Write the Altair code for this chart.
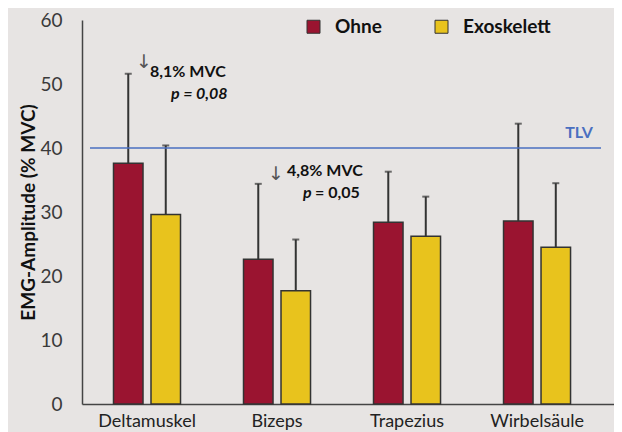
import altair as alt
import pandas as pd

muscles = ["Deltamuskel", "Bizeps", "Trapezius", "Wirbelsäule"]
conditions = ["Ohne", "Exoskelett"]
ohne_vals = [37.6, 22.6, 28.4, 28.6]
ohne_err_top = [51.6, 34.4, 36.3, 43.8]
exo_vals = [29.6, 17.7, 26.2, 24.5]
exo_err_top = [40.4, 25.7, 32.4, 34.5]
y_ticks = [0, 10, 20, 30, 40, 50, 60]
tlv_value = 40

rows = []
for i, m in enumerate(muscles):
    rows.append({"muscle": m, "cond": "Ohne", "value": ohne_vals[i], "err": ohne_err_top[i]})
    rows.append({"muscle": m, "cond": "Exoskelett", "value": exo_vals[i], "err": exo_err_top[i]})
df = pd.DataFrame(rows)

FONT = "Lato"
RED = "#9a1430"
YELLOW = "#e8c31d"
BG = "#e7e4e3"
DARK = "#333333"

x_scale = alt.Scale(domain=muscles, paddingInner=0, paddingOuter=0.046, align=0)
xo_scale = alt.Scale(domain=conditions, paddingInner=0.213, paddingOuter=0.84)

x_enc = alt.X("muscle:N", scale=x_scale,
              axis=alt.Axis(title=None, labelAngle=0, ticks=False, labelFontSize=18,
                            labelFont=FONT, labelColor="#222222", labelPadding=8,
                            domainColor="#444444", domainWidth=1.5))
xo_enc = alt.XOffset("cond:N", scale=xo_scale)
y_scale = alt.Scale(domain=[0, 60], nice=False)

bars = alt.Chart(df).mark_bar(stroke=DARK, strokeWidth=1.5).encode(
    x=x_enc,
    xOffset=xo_enc,
    y=alt.Y("value:Q", scale=y_scale,
            axis=alt.Axis(values=y_ticks, grid=False, ticks=False, labelFontSize=19,
                          labelFont=FONT, labelColor="#3a3a3a", labelPadding=20,
                          domainColor="#444444", domainWidth=1.5,
                          title="EMG-Amplitude (% MVC)", titleFont=FONT, titleFontSize=19,
                          titleFontWeight="bold", titleColor="#111111",
                          titleX=-54, titleY=192, titleAngle=270, titleAlign="center",
                          titleBaseline="middle")),
    color=alt.Color("cond:N",
                    scale=alt.Scale(domain=conditions, range=[RED, YELLOW]),
                    legend=alt.Legend(title=None, orient="none", legendX=222, legendY=-3,
                                      direction="horizontal", columns=2, columnPadding=50,
                                      symbolType="square", symbolSize=169,
                                      symbolStrokeColor=DARK, symbolStrokeWidth=1,
                                      labelFont=FONT, labelFontSize=19, labelFontWeight="bold",
                                      labelColor="#111111", labelOffset=12)),
)

err_rule = alt.Chart(df).mark_rule(color=DARK, strokeWidth=2).encode(
    x=alt.X("muscle:N", scale=x_scale), xOffset=xo_enc,
    y="value:Q", y2="err:Q")
err_cap = alt.Chart(df).mark_tick(color=DARK, thickness=2, size=7, orient="horizontal").encode(
    x=alt.X("muscle:N", scale=x_scale), xOffset=xo_enc,
    y="err:Q")

tlv = alt.Chart(pd.DataFrame({"v": [tlv_value]})).mark_rule(color="#4a6fc0", strokeWidth=1.5).encode(
    y="v:Q", x=alt.value(8), x2=alt.value(519))

tlv_text = alt.Chart(pd.DataFrame({"m": ["Wirbelsäule"], "v": [42.3], "t": ["TLV"]})).mark_text(
    font=FONT, fontSize=16, fontWeight="bold", color="#4a6fc0", dx=42, baseline="middle"
).encode(x=alt.X("m:N", scale=x_scale), y="v:Q", text="t:N")

def ann(muscle, value, text, dx, italic=False, align="left", size=16, color="#111111", weight="bold", font=FONT):
    d = pd.DataFrame({"m": [muscle], "v": [value], "t": [text]})
    return alt.Chart(d).mark_text(
        font=font, fontSize=size, fontWeight=weight, fontStyle="italic" if italic else "normal",
        color=color, align=align, baseline="middle", dx=dx
    ).encode(x=alt.X("m:N", scale=x_scale), y="v:Q", text="t:N")

annotations = [
    ann("Deltamuskel", 53.4, "↓", -11, size=19, color="#555555", weight="normal", font="DejaVu Sans"),
    ann("Deltamuskel", 51.9, "8,1% MVC", 3),
    ann("Deltamuskel", 48.4, "p = 0,08", 24, italic=True),
    ann("Bizeps", 35.9, "↓", -9, size=19, color="#555555", weight="normal", font="DejaVu Sans"),
    ann("Bizeps", 36.4, "4,8% MVC", 10),
    ann("Bizeps", 33.0, "p", 26, italic=True),
    ann("Bizeps", 33.0, "= 0,05", 38),
]

chart = alt.layer(bars, err_rule, err_cap, tlv, tlv_text, *annotations).properties(
    width=532, height=384,
    autosize=alt.AutoSizeParams(type="none"),
    padding={"left": 74, "top": 12, "right": 0, "bottom": 28},
    background=BG,
).configure_view(stroke=None)

chart.save("out.html", embed_options={"renderer": "svg", "actions": False})
